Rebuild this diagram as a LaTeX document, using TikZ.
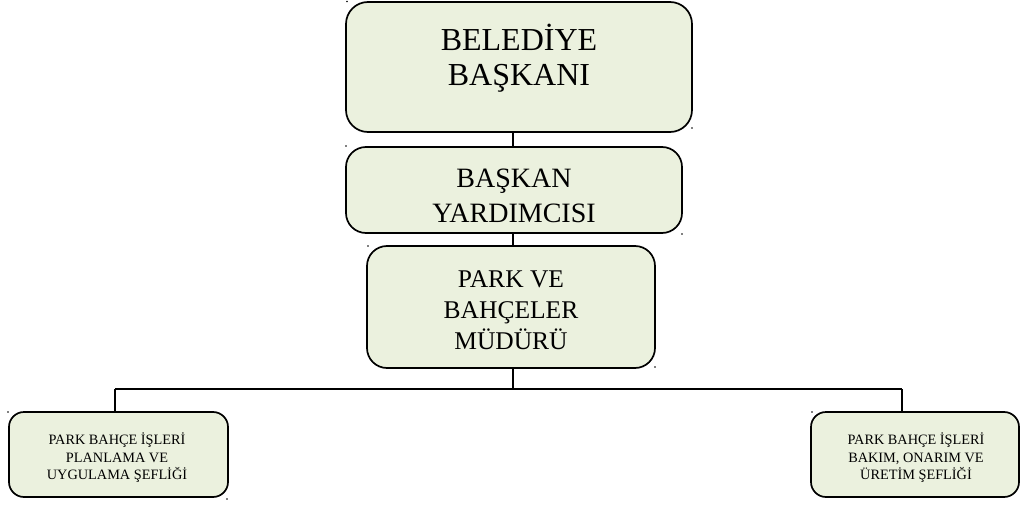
\documentclass[tikz,border=0pt]{standalone}
\usepackage{fontspec}
\setmainfont{Liberation Serif}
\definecolor{boxfill}{HTML}{EBF1DE}
\begin{document}
\begin{tikzpicture}[x=1pt,y=-1pt,
  orgbox/.style={draw=black, line width=1.7pt, fill=boxfill, rounded corners=#1, inner sep=0pt},
  orgbox/.default=20pt,
  link/.style={draw=black, line width=2.4pt},
  marker/.style={fill=black, draw=none, circle, inner sep=0pt, minimum size=1.8pt},
  bigtxt/.style={align=center, font=\fontsize{32}{35}\selectfont},
  midtxt/.style={align=center, font=\fontsize{28}{35}\selectfont},
  dirtxt/.style={align=center, font=\fontsize{25.5}{31}\selectfont},
  smalltxt/.style={align=center, font=\fontsize{14.3}{17.5}\selectfont}]
\useasboundingbox (0,0) rectangle (1021,506);

% spine and bus coordinates
\coordinate (spine) at (513,389);
\coordinate (leftdrop) at (115,389);
\coordinate (rightdrop) at (902,389);

% connectors (drawn first, boxes cover their ends)
\draw[link] (spine |- 0,130) -- (spine |- 0,150);
\draw[link] (spine |- 0,231) -- (spine |- 0,249);
\draw[link] (spine |- 0,366) -- (spine);
\draw[link] (leftdrop) -- (rightdrop);
\draw[link] (leftdrop) -- (115,414);
\draw[link] (rightdrop) -- (902,414);

% boxes
\node[orgbox=22pt, minimum width=346pt, minimum height=130pt] (b1) at (519,67) {};
\node[orgbox=20pt, minimum width=336pt, minimum height=86pt] (b2) at (514,190) {};
\node[orgbox=20pt, minimum width=288pt, minimum height=122pt] (b3) at (511,307) {};
\node[orgbox=15pt, minimum width=219pt, minimum height=85pt] (b4) at (118.5,454.5) {};
\node[orgbox=15pt, minimum width=208pt, minimum height=85pt] (b5) at (915,454.5) {};

% labels
\node[bigtxt] (t1) at (519,58) {BELEDİYE\\BAŞKANI};
\node[midtxt] (t2) at (514,196) {BAŞKAN\\YARDIMCISI};
\node[dirtxt] (t3) at (511,310) {PARK VE\\BAHÇELER\\MÜDÜRÜ};
\node[smalltxt] (t4) at (117,458) {PARK BAHÇE İŞLERİ\\PLANLAMA VE\\UYGULAMA ŞEFLİĞİ};
\node[smalltxt] (t5) at (916,458) {PARK BAHÇE İŞLERİ\\BAKIM, ONARIM VE\\ÜRETİM ŞEFLİĞİ};

% small corner markers
\node[marker] (m1) at (347,1.5) {};
\node[marker] (m2) at (692,128) {};
\node[marker] (m3) at (346,146) {};
\node[marker] (m4) at (682,234) {};
\node[marker] (m5) at (368,246) {};
\node[marker] (m6) at (655,367) {};
\node[marker] (m7) at (8,412) {};
\node[marker] (m8) at (227,499) {};
\node[marker] (m9) at (812,412) {};
\end{tikzpicture}
\end{document}
